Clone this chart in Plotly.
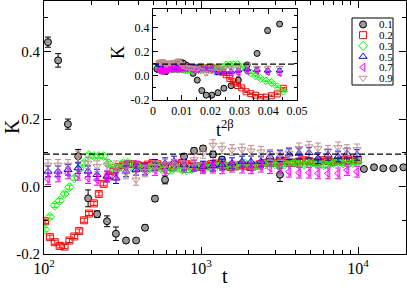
import plotly.graph_objects as go

# ---------------- data ----------------
beta2 = -0.67          # exponent 2*beta used for the inset abscissa t^(2beta)
K_inf = 0.096          # dashed reference level

series_labels = ["0.1", "0.2", "0.3", "0.5", "0.7", "0.9"]

# 0.1 series
t_01 = [106, 123, 142, 165, 191, 218, 252, 287, 333, 386, 440, 509, 590,
        780, 903, 1030, 1193, 1361, 3185, 10900, 12640, 14490, 16790, 19450]
K_01 = [0.428, 0.374, 0.185, 0.090, -0.035, -0.082, -0.103, -0.140, -0.160, -0.160,
        -0.122, -0.036, 0.020, 0.089, 0.106, 0.113, 0.095, 0.080, 0.035,
        0.052, 0.057, 0.054, 0.054, 0.057]
E_01 = [0.015, 0.020, 0.015, 0.020, 0.025, 0.010, 0.016, 0.020, 0.006, 0.006,
        0.008, 0.008, 0.012, 0.008, 0.008, 0.008, 0.008, 0.008, 0.020,
        0.006, 0.006, 0.006, 0.006, 0.006]

# dense time grid (0.2 and 0.3 series)
t_dense = [101.5, 109.0, 117.1, 125.8, 135.2, 145.2, 156.0, 167.6, 180.1, 193.4,
           207.8, 223.3, 239.9, 257.7, 276.8, 297.4, 319.5, 343.2, 368.7, 396.1,
           425.5, 457.2, 491.1, 527.6, 566.8, 608.9, 654.2, 702.8, 755.0, 811.1,
           871.4, 936.1, 1005.7, 1080.4, 1160.7, 1246.9, 1339.6, 1439.1, 1546.0, 1660.9,
           1784.3, 1916.9, 2059.3, 2212.3, 2376.7, 2553.3, 2743.0, 2946.8, 3165.7, 3400.9,
           3653.6, 3925, 4217, 4530, 4866, 5228, 5616, 6034, 6482, 6964,
           7481, 8037, 8634, 9276, 9965]
K_02 = [-0.103, -0.150, -0.165, -0.176, -0.178, -0.160, -0.148, -0.132, -0.100, -0.080,
        -0.050, -0.022, 0.008, 0.030, 0.047, 0.058, 0.064, 0.067, 0.066, 0.063,
        0.060, 0.065, 0.070, 0.066, 0.060, 0.058, 0.062, 0.065, 0.070, 0.066,
        0.062, 0.060, 0.058, 0.062, 0.066, 0.068, 0.064, 0.060, 0.058, 0.060,
        0.064, 0.062, 0.058, 0.062, 0.066, 0.070, 0.072, 0.070, 0.074, 0.076,
        0.072, 0.070, 0.074, 0.078, 0.075, 0.072, 0.074, 0.078, 0.076, 0.073,
        0.075, 0.078, 0.080, 0.077, 0.079]
K_03 = [-0.128, -0.090, -0.056, -0.042, -0.022, -0.002, 0.025, 0.052, 0.070, 0.093,
        0.090, 0.090, 0.090, 0.069, 0.052, 0.054, 0.069, 0.070, 0.055, 0.060,
        0.055, 0.050, 0.055, 0.060, 0.050, 0.045, 0.050, 0.055, 0.050, 0.048,
        0.052, 0.058, 0.062, 0.058, 0.055, 0.060, 0.065, 0.062, 0.058, 0.060,
        0.065, 0.068, 0.064, 0.060, 0.062, 0.066, 0.070, 0.066, 0.062, 0.065,
        0.068, 0.070, 0.066, 0.064, 0.068, 0.070, 0.066, 0.063, 0.066, 0.070,
        0.072, 0.068, 0.066, 0.070, 0.072]

# sparse time grid (0.5, 0.7, 0.9 series)
t_sparse = [106.0, 122.8, 142.2, 164.7, 190.7, 217.6, 252.0, 287.4, 332.9, 385.5,
            439.8, 509.4, 589.9, 673.2, 779.5, 902.6, 1029.8, 1192.5, 1360.9, 1575.6,
            1824.5, 2081.6, 2410.4, 2750.3, 3185.1, 3635.1, 4209.3, 4874.1, 5562.4, 6441.2,
            7458.8, 8510.7, 9854.4]
K_05 = [0.045, 0.045, 0.050, 0.055, 0.045, 0.035, 0.030, 0.025, 0.045, 0.050,
        0.051, 0.064, 0.069, 0.074, 0.065, 0.062, 0.059, 0.062, 0.065, 0.069,
        0.074, 0.074, 0.074, 0.089, 0.090, 0.096, 0.098, 0.100, 0.084, 0.094,
        0.089, 0.098, 0.094]
K_07 = [0.022, 0.030, 0.039, 0.035, 0.025, 0.020, 0.030, 0.035, 0.059, 0.059,
        0.050, 0.049, 0.049, 0.064, 0.059, 0.062, 0.054, 0.056, 0.054, 0.059,
        0.056, 0.054, 0.059, 0.055, 0.054, 0.044, 0.041, 0.041, 0.039, 0.039,
        0.039, 0.049, 0.044]
K_09 = [0.064, 0.064, 0.064, 0.089, 0.070, 0.060, 0.064, 0.060, 0.039, 0.020,
        0.045, 0.060, 0.065, 0.065, 0.070, 0.080, 0.100, 0.123, 0.113, 0.108,
        0.110, 0.106, 0.103, 0.094, 0.094, 0.100, 0.113, 0.118, 0.113, 0.106,
        0.116, 0.108, 0.110]
E_dense = 0.006
E_sparse = 0.016

# ---------------- styles ----------------
styles = {
    "0.1": dict(symbol="circle", color="#9a9a9a", line="#000000", ecol="#000000"),
    "0.2": dict(symbol="square-open", color="#ff0000", line="#ff0000", ecol="#ff0000"),
    "0.3": dict(symbol="diamond-open", color="#00ff00", line="#00ff00", ecol="#00ff00"),
    "0.5": dict(symbol="triangle-up-open", color="#0000ff", line="#0000ff", ecol="#0000ff"),
    "0.7": dict(symbol="triangle-left-open", color="#ff00ff", line="#ff00ff", ecol="#ff00ff"),
    "0.9": dict(symbol="triangle-down-open", color="#bc8f8f", line="#bc8f8f", ecol="#bc8f8f"),
}

data = [
    ("0.1", t_01, K_01, E_01),
    ("0.2", t_dense, K_02, [E_dense] * len(K_02)),
    ("0.3", t_dense, K_03, [E_dense] * len(K_03)),
    ("0.5", t_sparse, K_05, [E_sparse] * len(K_05)),
    ("0.7", t_sparse, K_07, [E_sparse] * len(K_07)),
    ("0.9", t_sparse, K_09, [E_sparse] * len(K_09)),
]

FONT = "Liberation Serif"
fig = go.Figure()

for lab, t, k, e in data:
    s = styles[lab]
    mk = dict(symbol=s["symbol"], color=s["color"], size=7,
              line=dict(color=s["line"], width=1))
    fig.add_trace(go.Scatter(
        x=t, y=k, mode="markers", marker=mk, name=lab, showlegend=False,
        error_y=dict(type="data", array=e, color=s["ecol"], thickness=1, width=3),
        xaxis="x", yaxis="y"))
    # inset: same data against t^(2beta)
    mk2 = dict(mk, size=6)
    fig.add_trace(go.Scatter(
        x=[v ** beta2 for v in t], y=k, mode="markers", marker=mk2, showlegend=False,
        error_y=dict(type="data", array=e, color=s["ecol"], thickness=1, width=2),
        xaxis="x2", yaxis="y2"))

# legend keys (manual legend box)
for i, lab in enumerate(series_labels):
    s = styles[lab]
    yy = 1 - (i + 0.6) / 6.25
    fig.add_trace(go.Scatter(
        x=[0.27], y=[yy], mode="markers", showlegend=False, hoverinfo="skip",
        marker=dict(symbol=s["symbol"], color=s["color"], size=7,
                    line=dict(color=s["line"], width=1)),
        xaxis="x3", yaxis="y3"))
    fig.add_annotation(x=0.60, y=yy, xref="x3", yref="y3", text=lab,
                       showarrow=False, xanchor="left", yanchor="middle",
                       font=dict(family=FONT, size=11, color="black"))

# geometry (plot area px: x 44..406, y 1..254)
W, H = 407, 290
L, R, T, B = 44, 1, 1, 36
pw, ph = W - L - R, H - T - B
def px(x):
    return (x - L) / pw
def py(y):
    return (H - B - y) / ph

axis_common = dict(showline=True, linecolor="black", linewidth=1, mirror="allticks",
                   ticks="inside", tickcolor="black", showgrid=False, zeroline=False,
                   automargin=False)

fig.update_layout(
    width=W, height=H, margin=dict(l=L, r=R, t=T, b=B),
    paper_bgcolor="white", plot_bgcolor="white", showlegend=False,
    xaxis=dict(type="log", range=[2, 4.3057], domain=[0, 1],
               tickvals=[100, 1000, 10000],
               ticktext=["10<sup>2</sup>", "10<sup>3</sup>", "10<sup>4</sup>"],
               ticklen=7,
               minor=dict(tickvals=[200, 300, 400, 500, 600, 700, 800, 900,
                                    2000, 3000, 4000, 5000, 6000, 7000, 8000, 9000,
                                    20000],
                          ticks="inside", ticklen=4, tickcolor="black"),
               tickfont=dict(family=FONT, size=16, color="black"), **axis_common),
    yaxis=dict(range=[-0.2, 0.55], domain=[0, 1],
               tickvals=[-0.2, 0.0, 0.2, 0.4], ticktext=["-0.2", "0.0", "0.2", "0.4"],
               ticklen=7,
               minor=dict(tickvals=[-0.1, 0.1, 0.3, 0.5], ticks="inside", ticklen=4,
                          tickcolor="black"),
               tickfont=dict(family=FONT, size=15, color="black"), **axis_common),
    xaxis2=dict(range=[0, 0.05], domain=[px(153), px(297)], anchor="y2",
                tickvals=[0, 0.01, 0.02, 0.03, 0.04, 0.05],
                ticktext=["0", "0.01", "0.02", "0.03", "0.04", "0.05"],
                ticklen=5,
                minor=dict(tickvals=[0.005, 0.015, 0.025, 0.035, 0.045], ticks="inside",
                           ticklen=3, tickcolor="black"),
                tickfont=dict(family=FONT, size=12, color="black"), **axis_common),
    yaxis2=dict(range=[-0.2, 0.55], domain=[py(100), py(9.3)], anchor="x2",
                tickvals=[-0.2, 0.0, 0.2, 0.4], ticktext=["-0.2", "0.0", "0.2", "0.4"],
                ticklen=5,
                minor=dict(tickvals=[-0.1, 0.1, 0.3, 0.5], ticks="inside", ticklen=3,
                           tickcolor="black"),
                tickfont=dict(family=FONT, size=12, color="black"), **axis_common),
    xaxis3=dict(range=[0, 1], domain=[px(352), px(393)], anchor="y3", visible=False,
                fixedrange=True),
    yaxis3=dict(range=[0, 1], domain=[py(85), py(18)], anchor="x3", visible=False,
                fixedrange=True),
)

# dashed reference lines
fig.add_shape(type="line", xref="x domain", yref="y", x0=0, x1=1, y0=K_inf, y1=K_inf,
              line=dict(color="black", width=1.3, dash="6px,3px"))
fig.add_shape(type="line", xref="x2 domain", yref="y2", x0=0, x1=1, y0=K_inf, y1=K_inf,
              line=dict(color="black", width=1.3, dash="6px,3px"))
# legend frame
fig.add_shape(type="rect", xref="paper", yref="paper", x0=px(352), x1=px(393),
              y0=py(85), y1=py(18), line=dict(color="black", width=1),
              fillcolor="rgba(0,0,0,0)")

# axis titles
def title(x, y, text, size, angle=0):
    fig.add_annotation(x=px(x), y=py(y), xref="paper", yref="paper", text=text,
                       showarrow=False, textangle=angle, xanchor="center",
                       yanchor="middle", font=dict(family=FONT, size=size, color="black"))

title(12, 127, "K", 20, -90)
title(225, 276, "t", 20)
title(118, 53, "K", 18, -90)
title(225, 128, "t<sup>2β</sup>", 18)

fig.write_html("out.html", config={"displayModeBar": False},
               post_script="document.body.style.margin='0';document.body.style.padding='0';")
